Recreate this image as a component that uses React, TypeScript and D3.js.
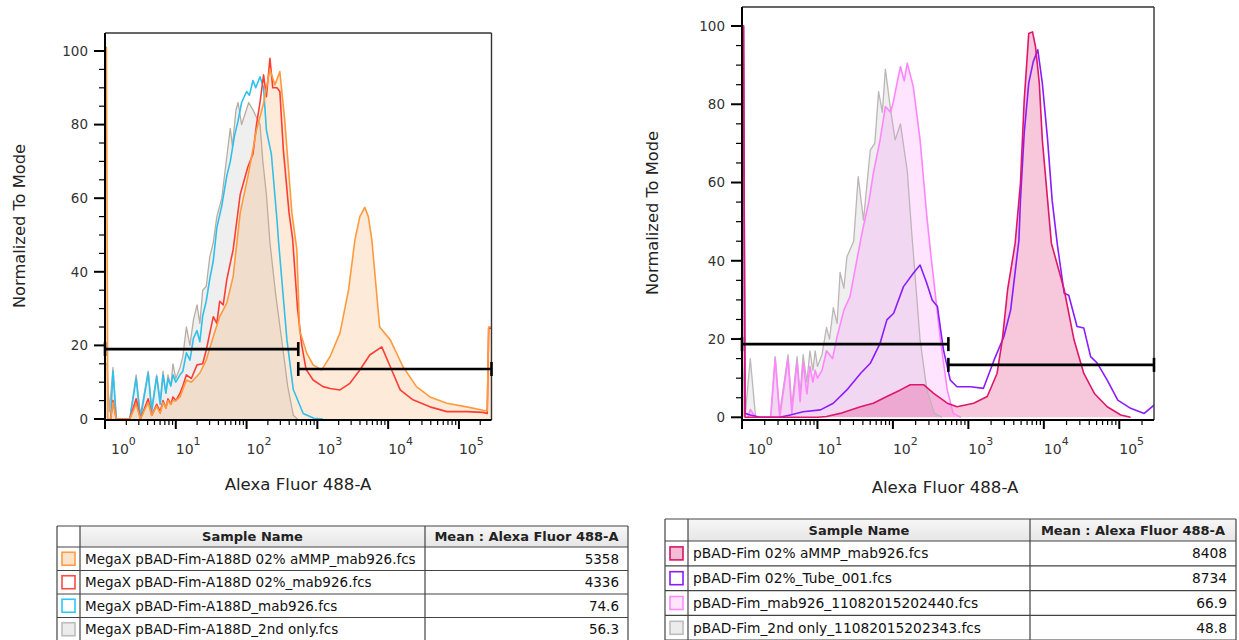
import * as d3 from 'd3';

// each point: [log10 of the Alexa Fluor 488-A channel value, % of mode]
type Pt = [number, number];

const FONT = '"DejaVu Sans", Verdana, sans-serif';
const X_MAX = 10 ** 5.46;
const DECADES = [0, 1, 2, 3, 4, 5];
const Y_MAJOR = [0, 20, 40, 60, 80, 100];

// ---- left panel: MegaX pBAD-Fim-A188D ----
const leftOrange: Pt[] = [
  [0, 101], [0.02, 101], [0.04, 0], [0.08, 0], [0.113, 4.5], [0.16, 0], [0.35, 0], [0.44, 4], [0.5, 0], [0.61, 4.5],
  [0.66, 1], [0.73, 3.5], [0.78, 1.5], [0.82, 4.5], [0.86, 3], [0.89, 5], [0.93, 4], [0.96, 5], [1.0, 5], [1.06, 6],
  [1.1, 8], [1.15, 10.6], [1.22, 10], [1.34, 12.5], [1.43, 16], [1.53, 22.4], [1.62, 27.8], [1.72, 31.5], [1.81, 38.7],
  [1.91, 56], [2.02, 66], [2.14, 78.5], [2.24, 85.8], [2.33, 95], [2.4, 90.8], [2.47, 94.4], [2.54, 81], [2.64, 56],
  [2.71, 46], [2.75, 24], [2.85, 17.9], [2.94, 14.7], [3.06, 13.3], [3.18, 17], [3.32, 23.4], [3.44, 35], [3.53, 48.6],
  [3.6, 55], [3.67, 57.5], [3.72, 55], [3.77, 48.6], [3.88, 25], [4.03, 21.5], [4.21, 14.2], [4.4, 8.8], [4.59, 6],
  [4.83, 4.3], [5.11, 3.3], [5.34, 2.4], [5.4, 2.2], [5.42, 25], [5.46, 25],
];
const leftRed: Pt[] = [
  [0.08, 0], [0.113, 5], [0.16, 0], [0.35, 0], [0.44, 5.5], [0.5, 0], [0.61, 5.5], [0.66, 1], [0.73, 4], [0.78, 2],
  [0.82, 5], [0.86, 3], [0.89, 5.5], [0.93, 4], [0.96, 6], [1.0, 5], [1.06, 7], [1.1, 9], [1.15, 12], [1.22, 11],
  [1.3, 14.7], [1.38, 15], [1.43, 18.7], [1.53, 27.8], [1.58, 26], [1.62, 32], [1.67, 31], [1.72, 37.8], [1.81, 46],
  [1.91, 61], [2.02, 68.6], [2.09, 72], [2.14, 80], [2.19, 86], [2.24, 93.5], [2.28, 87.6], [2.33, 98], [2.37, 90],
  [2.43, 90], [2.47, 89], [2.52, 73], [2.6, 56], [2.65, 49], [2.72, 30], [2.78, 20], [2.84, 13.5], [2.94, 10.6],
  [3.08, 8.8], [3.18, 8.3], [3.32, 7.9], [3.46, 9.7], [3.6, 13.3], [3.74, 17.4], [3.91, 19.6], [4.03, 14.2],
  [4.17, 7.9], [4.35, 5.2], [4.59, 3.3], [4.83, 2], [5.11, 2], [5.34, 1.8], [5.4, 1.5], [5.42, 24.7], [5.46, 24.7],
];
const leftCyan: Pt[] = [
  [0.08, 0], [0.113, 13], [0.16, 0], [0.35, 0], [0.44, 11], [0.5, 0], [0.61, 12.5], [0.66, 2], [0.73, 11.5], [0.78, 4],
  [0.82, 12], [0.86, 7], [0.89, 11], [0.93, 9], [0.96, 12], [1.0, 10], [1.06, 12], [1.1, 13], [1.15, 18], [1.2, 16],
  [1.25, 22], [1.3, 24], [1.34, 21], [1.38, 28], [1.43, 32], [1.48, 38], [1.53, 43], [1.58, 52], [1.65, 58],
  [1.72, 66], [1.77, 70], [1.83, 77], [1.88, 81], [1.93, 86], [2.0, 89], [2.04, 88], [2.09, 92], [2.13, 90],
  [2.19, 93], [2.24, 90], [2.28, 78.5], [2.35, 72], [2.43, 54], [2.45, 48.6], [2.57, 21.5], [2.66, 8], [2.8, 1.5],
  [2.95, 0.2], [3.08, 0],
];
const leftGray: Pt[] = [
  [0, 15], [0.03, 15], [0.06, 2], [0.113, 14], [0.16, 0], [0.35, 0], [0.44, 12], [0.5, 1], [0.61, 13], [0.66, 3],
  [0.73, 12], [0.78, 5], [0.82, 13], [0.86, 7], [0.89, 12], [0.93, 9], [0.96, 15], [1.0, 11], [1.06, 14], [1.1, 17],
  [1.15, 25], [1.2, 20], [1.25, 27], [1.3, 31], [1.34, 26], [1.38, 35], [1.43, 36], [1.48, 44], [1.53, 48],
  [1.58, 55], [1.65, 60], [1.7, 68], [1.77, 79], [1.8, 74], [1.85, 84], [1.88, 86], [1.93, 80], [1.98, 83],
  [2.03, 86], [2.09, 84], [2.14, 82], [2.19, 80], [2.23, 70], [2.28, 61], [2.33, 48], [2.41, 34], [2.5, 21],
  [2.58, 9], [2.66, 1], [2.72, 0],
];

// ---- right panel: pBAD-Fim ----
const rightMagenta: Pt[] = [
  [0, 100], [0.02, 100], [0.04, 0], [1.0, 0], [1.12, 0.2], [1.3, 1], [1.57, 2.7], [1.74, 3.6], [1.92, 5.3], [2.1, 7],
  [2.23, 8.3], [2.41, 8.3], [2.54, 6.1], [2.72, 3.6], [2.85, 2.7], [3.07, 3.6], [3.25, 5.3], [3.38, 11.2],
  [3.45, 19.8], [3.52, 32.6], [3.62, 44.5], [3.69, 59.8], [3.74, 81], [3.8, 98.1], [3.85, 98.5], [3.89, 94.7],
  [3.94, 85.4], [3.98, 70.9], [4.05, 55.5], [4.1, 44.5], [4.27, 32.6], [4.4, 19.8], [4.53, 11.2], [4.67, 6.1],
  [4.84, 2.7], [5.02, 0.6], [5.15, 0],
];
const rightPurple: Pt[] = [
  [0, 100], [0.02, 100], [0.04, 1], [0.11, 0.6], [0.24, 0], [0.5, 0], [0.64, 0.6], [0.81, 1.4], [1.04, 1.9],
  [1.21, 3.6], [1.39, 7], [1.57, 11.2], [1.7, 13.8], [1.83, 18.9], [1.92, 24.9], [2.01, 26.6], [2.14, 33.4],
  [2.27, 36.8], [2.36, 38.9], [2.45, 34.2], [2.52, 30], [2.59, 28.3], [2.67, 17.2], [2.76, 9.5], [2.85, 7.8],
  [3.03, 7.8], [3.2, 7.4], [3.34, 14.6], [3.47, 20.6], [3.56, 27.4], [3.67, 45.3], [3.69, 55.5], [3.74, 72.6],
  [3.8, 85.4], [3.86, 90.9], [3.92, 93.9], [3.98, 85.4], [4.05, 70.9], [4.11, 55.5], [4.18, 44], [4.27, 31.7],
  [4.33, 31.2], [4.44, 23.2], [4.53, 22.8], [4.62, 15.5], [4.71, 13.8], [4.84, 9.5], [4.98, 4.4], [5.15, 2.3],
  [5.33, 1], [5.46, 3.1],
];
const rightPink: Pt[] = [
  [0.08, 0], [0.11, 2], [0.18, 0], [0.38, 0], [0.44, 15], [0.5, 0], [0.61, 15], [0.66, 1], [0.73, 14], [0.77, 4],
  [0.81, 14], [0.86, 6], [0.9, 13], [0.94, 9], [0.97, 12], [1.0, 10], [1.06, 12], [1.12, 17], [1.2, 15],
  [1.26, 20.6], [1.35, 27.4], [1.43, 30.8], [1.52, 40], [1.6, 48], [1.68, 55], [1.74, 62.3], [1.83, 70.9],
  [1.9, 79.4], [1.97, 78], [2.01, 81], [2.06, 86], [2.1, 89.6], [2.15, 86], [2.19, 90.5], [2.27, 84.5],
  [2.36, 70.9], [2.45, 51.3], [2.5, 42], [2.63, 19.8], [2.72, 7], [2.8, 1], [2.9, 0],
];
const rightGray: Pt[] = [
  [0, 15], [0.05, 2], [0.11, 15], [0.18, 0], [0.38, 0], [0.44, 15.5], [0.5, 1], [0.61, 16], [0.66, 3], [0.73, 15.5],
  [0.77, 6], [0.81, 16], [0.86, 9], [0.9, 17], [0.94, 12], [0.97, 17], [1.0, 13], [1.06, 16], [1.12, 23], [1.16, 20],
  [1.21, 28], [1.26, 24], [1.3, 37], [1.35, 33], [1.39, 41], [1.48, 45], [1.54, 61.5], [1.61, 50.4], [1.7, 68.3],
  [1.76, 70], [1.81, 83.2], [1.86, 78], [1.9, 89], [1.97, 78.5], [2.03, 70.9], [2.1, 75], [2.19, 63], [2.25, 47],
  [2.36, 19.8], [2.45, 7], [2.55, 1], [2.65, 0],
];

// gates: [from log10, to log10, % of mode]
const leftGates: [number, number, number][] = [[0, 2.73, 19], [2.73, 5.46, 13.6]];
const rightGates: [number, number, number][] = [[0, 2.735, 18.7], [2.735, 5.46, 13.4]];

const leftNames = [
  'MegaX pBAD-Fim-A188D 02% aMMP_mab926.fcs',
  'MegaX pBAD-Fim-A188D 02%_mab926.fcs',
  'MegaX pBAD-Fim-A188D_mab926.fcs',
  'MegaX pBAD-Fim-A188D_2nd only.fcs',
];
const leftMeans = ['5358', '4336', '74.6', '56.3'];
const rightNames = [
  'pBAD-Fim 02% aMMP_mab926.fcs',
  'pBAD-Fim 02%_Tube_001.fcs',
  'pBAD-Fim_mab926_11082015202440.fcs',
  'pBAD-Fim_2nd only_11082015202343.fcs',
];
const rightMeans = ['8408', '8734', '66.9', '48.8'];

const leftSwatches = [
  { stroke: '#ff9c45', fill: '#fde3c9' },
  { stroke: '#ff4b42', fill: '#ffffff' },
  { stroke: '#2ec8f5', fill: '#ffffff' },
  { stroke: '#bdbdbd', fill: '#ececec' },
];
const rightSwatches = [
  { stroke: '#d9166b', fill: '#f4bcd2' },
  { stroke: '#8a1cff', fill: '#ffffff' },
  { stroke: '#ff8cff', fill: '#ffe4ff' },
  { stroke: '#bdbdbd', fill: '#ececec' },
];

interface Series { data: Pt[]; stroke: string; fill?: string; width?: number }
interface Frame { left: number; right: number; top: number; bottom: number; zero: number; hundred: number }

function Histogram({ id, frame, series, gates, xTitle, yTitle }: {
  id: string; frame: Frame; series: Series[]; gates: [number, number, number][];
  xTitle: [number, number]; yTitle: [number, number];
}) {
  const x = d3.scaleLog().domain([1, X_MAX]).range([frame.left, frame.right]);
  const y = d3.scaleLinear().domain([0, 100]).range([frame.zero, frame.hundred]);
  const px = (d: Pt) => x(10 ** d[0]);
  const area = d3.area<Pt>().x(px).y0(y(0)).y1((d) => y(d[1]));
  const line = d3.line<Pt>().x(px).y((d) => y(d[1]));
  const minorX: number[] = [];
  DECADES.forEach((k) => d3.range(2, 10).forEach((m) => { if (m * 10 ** k < X_MAX) minorX.push(m * 10 ** k); }));
  const minorY = d3.range(0, 101, 5).filter((v) => v % 20 !== 0);

  return (
    <g>
      <defs>
        <clipPath id={id}>
          <rect x={frame.left} y={frame.top} width={frame.right - frame.left} height={frame.bottom - frame.top} />
        </clipPath>
      </defs>
      <g clipPath={`url(#${id})`}>
        {series.filter((s) => s.fill).map((s, i) => (
          <path key={`a${i}`} d={area(s.data) ?? ''} fill={s.fill} stroke="none" />
        ))}
        {series.map((s, i) => (
          <path key={`l${i}`} d={line(s.data) ?? ''} fill="none" stroke={s.stroke} strokeWidth={s.width ?? 1.6} strokeLinejoin="round" />
        ))}
      </g>
      {/* frame */}
      <line x1={frame.left} x2={frame.right} y1={frame.top} y2={frame.top} stroke="#333" strokeWidth={1.4} />
      <line x1={frame.right} x2={frame.right} y1={frame.top} y2={frame.bottom} stroke="#333" strokeWidth={1.4} />
      <line x1={frame.left} x2={frame.left} y1={frame.top} y2={frame.bottom + 1} stroke="#000" strokeWidth={2} />
      <line x1={frame.left - 1} x2={frame.right} y1={frame.bottom} y2={frame.bottom} stroke="#000" strokeWidth={2} />
      {/* y ticks */}
      {Y_MAJOR.map((v) => (
        <g key={`ym${v}`}>
          <line x1={frame.left - 11} x2={frame.left} y1={y(v)} y2={y(v)} stroke="#000" strokeWidth={2} />
          <text x={frame.left - 17} y={y(v)} dy="0.36em" textAnchor="end" fontSize={13.5} fill="#333">{v}</text>
        </g>
      ))}
      {minorY.map((v) => (
        <line key={`yn${v}`} x1={frame.left - 6} x2={frame.left} y1={y(v)} y2={y(v)} stroke="#000" strokeWidth={1.2} />
      ))}
      {/* x ticks */}
      {DECADES.map((k) => (
        <g key={`xm${k}`}>
          <line x1={x(10 ** k)} x2={x(10 ** k)} y1={frame.bottom} y2={frame.bottom + 9} stroke="#000" strokeWidth={2} />
          <text x={x(10 ** k) + (k === 0 ? 6 : 0)} y={frame.bottom + 34} fontSize={14} fill="#333">
            10<tspan dy={-9} fontSize={11}>{k}</tspan>
          </text>
        </g>
      ))}
      {minorX.map((v, i) => (
        <line key={`xn${i}`} x1={x(v)} x2={x(v)} y1={frame.bottom} y2={frame.bottom + 5} stroke="#000" strokeWidth={1.2} />
      ))}
      {/* gates */}
      {gates.map((g, i) => {
        const gy = y(g[2]);
        const xa = x(10 ** g[0]);
        const xb = Math.min(x(10 ** g[1]), frame.right);
        return (
          <g key={`g${i}`} stroke="#000" strokeWidth={2.6}>
            <line x1={xa} x2={xb} y1={gy} y2={gy} />
            <line x1={xa} x2={xa} y1={gy - 7} y2={gy + 7} />
            <line x1={xb} x2={xb} y1={gy - 7} y2={gy + 7} />
          </g>
        );
      })}
      <text x={xTitle[0]} y={xTitle[1]} textAnchor="middle" fontSize={16.6} fill="#222">Alexa Fluor 488-A</text>
      <text transform={`translate(${yTitle[0]},${yTitle[1]}) rotate(-90)`} textAnchor="middle" fontSize={16.3} fill="#222">
        Normalized To Mode
      </text>
    </g>
  );
}

function SampleTable({ x, y, widths, headerH, rowH, names, means, swatches, fontSize }: {
  x: number; y: number; widths: number[]; headerH: number; rowH: number;
  names: string[]; means: string[]; swatches: { stroke: string; fill: string }[]; fontSize: number;
}) {
  const c1 = x + widths[0];
  const c2 = c1 + widths[1];
  const c3 = c2 + widths[2];
  const rows = names.length;
  const bottom = y + headerH + rowH * rows;
  return (
    <g>
      <defs>
        <linearGradient id={`hdr${x}`} x1="0" x2="0" y1="0" y2="1">
          <stop offset="0" stopColor="#f7f7f7" />
          <stop offset="1" stopColor="#e6e6e6" />
        </linearGradient>
      </defs>
      <rect x={x} y={y} width={c3 - x} height={bottom - y} fill="#fff" />
      <rect x={c1} y={y} width={c3 - c1} height={headerH} fill={`url(#hdr${x})`} />
      <text x={(c1 + c2) / 2} y={y + headerH / 2} dy="0.36em" textAnchor="middle" fontSize={13} fontWeight="bold" fill="#222">Sample Name</text>
      <text x={(c2 + c3) / 2} y={y + headerH / 2} dy="0.36em" textAnchor="middle" fontSize={13} fontWeight="bold" fill="#222">Mean : Alexa Fluor 488-A</text>
      {names.map((n, i) => {
        const ry = y + headerH + rowH * i;
        return (
          <g key={n}>
            <rect x={x + (widths[0] - 13) / 2} y={ry + (rowH - 13) / 2} width={13} height={13} fill={swatches[i].fill} stroke={swatches[i].stroke} strokeWidth={1.6} />
            <text x={c1 + 5} y={ry + rowH / 2} dy="0.36em" fontSize={fontSize} fill="#111">{n}</text>
            <text x={c3 - 9} y={ry + rowH / 2} dy="0.36em" textAnchor="end" fontSize={fontSize} fill="#111">{means[i]}</text>
            <line x1={x} x2={c3} y1={ry} y2={ry} stroke="#444" strokeWidth={1.2} />
          </g>
        );
      })}
      <line x1={x} x2={c3} y1={y} y2={y} stroke="#444" strokeWidth={1.2} />
      <line x1={x} x2={c3} y1={bottom} y2={bottom} stroke="#444" strokeWidth={1.2} />
      {[x, c1, c2, c3].map((cx) => (
        <line key={cx} x1={cx} x2={cx} y1={y} y2={bottom} stroke="#444" strokeWidth={1.2} />
      ))}
    </g>
  );
}

export default function App() {
  const leftSeries: Series[] = [
    { data: leftGray, stroke: '#b9ada2', fill: 'rgba(120,120,120,0.12)', width: 1.3 },
    { data: leftOrange, stroke: 'none', fill: 'rgba(251,160,80,0.22)' },
    { data: leftCyan, stroke: '#2fc0ec' },
    { data: leftRed, stroke: '#ff3d33' },
    { data: leftOrange, stroke: '#ff9a3c' },
  ];
  const rightSeries: Series[] = [
    { data: rightGray, stroke: '#bdb5b8', fill: 'rgba(120,120,120,0.12)', width: 1.3 },
    { data: rightPink, stroke: '#ff85ff', fill: 'rgba(255,120,255,0.2)' },
    { data: rightMagenta, stroke: 'none', fill: 'rgba(225,30,110,0.25)' },
    { data: rightPurple, stroke: '#8a1cff' },
    { data: rightMagenta, stroke: '#df176c' },
  ];
  return (
    <div style={{ position: 'absolute', left: 0, top: 0, width: 1239, height: 640, background: '#fff' }}>
      <svg width={1239} height={640} style={{ display: 'block', fontFamily: FONT }}>
        <Histogram
          id="clipL"
          frame={{ left: 105, right: 491.5, top: 33, bottom: 420, zero: 419, hundred: 51 }}
          series={leftSeries}
          gates={leftGates}
          xTitle={[298, 490]}
          yTitle={[25, 226]}
        />
        <Histogram
          id="clipR"
          frame={{ left: 742, right: 1154, top: 7, bottom: 420, zero: 417.3, hundred: 26 }}
          series={rightSeries}
          gates={rightGates}
          xTitle={[945, 493]}
          yTitle={[658, 213]}
        />
        <SampleTable x={57} y={526} widths={[23, 345, 203]} headerH={21} rowH={23.5}
          names={leftNames} means={leftMeans} swatches={leftSwatches} fontSize={13.5} />
        <SampleTable x={665} y={519} widths={[23, 342, 206]} headerH={22} rowH={24.8}
          names={rightNames} means={rightMeans} swatches={rightSwatches} fontSize={13.8} />
      </svg>
    </div>
  );
}
